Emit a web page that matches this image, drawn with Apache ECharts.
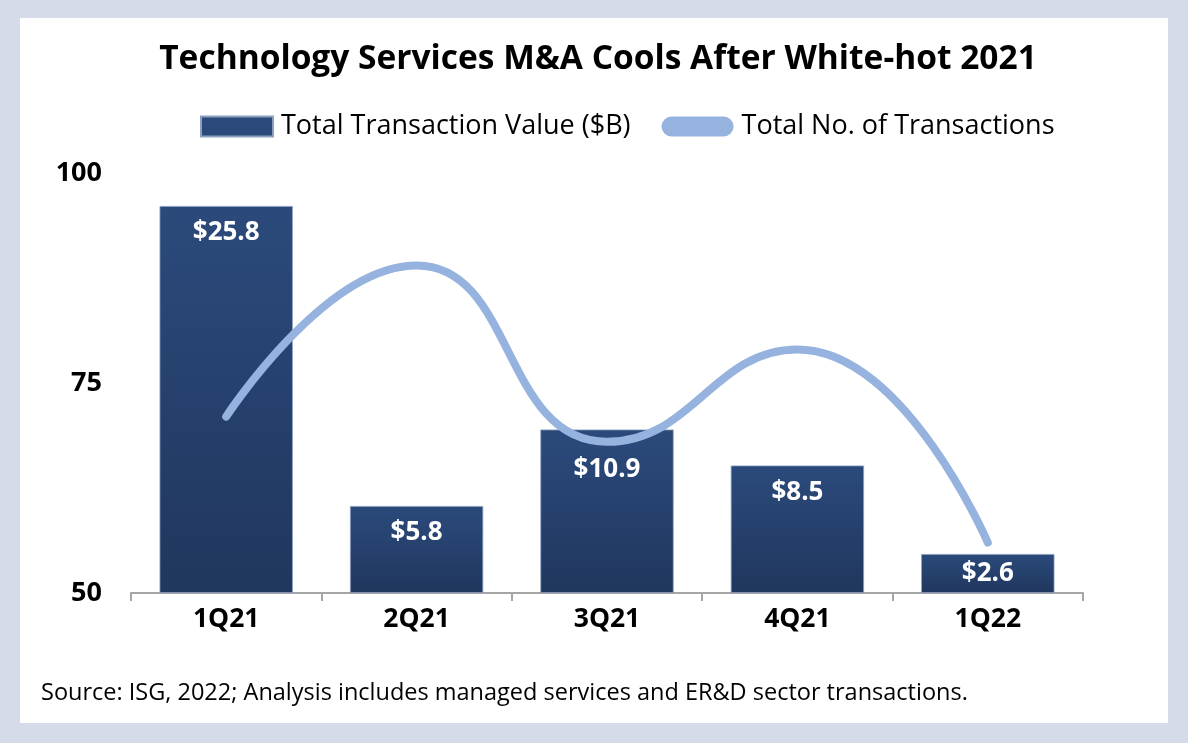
<!DOCTYPE html>
<html>
<head>
<meta charset="utf-8">
<script src="https://cdn.jsdelivr.net/npm/echarts@6/dist/echarts.min.js"></script>
<style>
html,body{margin:0;padding:0;background:#fff;}
#c{width:1202px;height:744px;}
</style>
</head>
<body>
<div id="c"></div>
<script>
const categories = ['1Q21','2Q21','3Q21','4Q21','1Q22'];
const transactionValue = [25.8, 5.8, 10.9, 8.5, 2.6];
const transactionCount = [71, 89, 68, 79, 56];
const yTicks = [50, 75, 100];

const chart = echarts.init(document.getElementById('c'));
const FONT = '"Open Sans", "Noto Sans", sans-serif';
const labelDist = [14, 14, 27, 14, 7];

chart.setOption({
  animation: false,
  textStyle: { fontFamily: FONT },
  graphic: [
    { type: 'rect', z: -10, shape: { x: 0, y: 0, width: 1188, height: 743 }, style: { fill: '#d5dbe8' } },
    { type: 'rect', z: -9, shape: { x: 20, y: 18, width: 1148, height: 705 }, style: { fill: '#ffffff' } },
    { type: 'text', left: 41, top: 681, style: { text: 'Source: ISG, 2022; Analysis includes managed services and ER&D sector transactions.', fontFamily: FONT, fontSize: 23.5, fill: '#000' } }
  ],
  title: {
    text: 'Technology Services M&A Cools After White-hot 2021',
    left: 593, top: 37, textAlign: 'center',
    textStyle: { fontFamily: FONT, fontWeight: 'bold', fontSize: 33.5, color: '#000' }
  },
  legend: {
    left: 200, top: 113, padding: 0,
    itemWidth: 72, itemHeight: 20, itemGap: 31,
    textStyle: { fontFamily: FONT, fontSize: 27, color: '#000', padding: [0,0,0,3] },
    data: [
      { name: 'Total Transaction Value ($B)', icon: 'rect', itemStyle: { color: '#2b4a7b' } },
      { name: 'Total No. of Transactions', icon: 'path://M10,0 L62,0 A10,10 0 0 1 62,20 L10,20 A10,10 0 0 1 10,0 Z', itemStyle: { color: '#95b3de' } }
    ]
  },
  grid: { left: 131, right: 119, top: 173, bottom: 151, containLabel: false },
  xAxis: {
    type: 'category', data: categories, boundaryGap: true,
    axisLine: { lineStyle: { color: '#a6a6a6', width: 2 } },
    axisTick: { show: true, length: 8, lineStyle: { color: '#a6a6a6', width: 2 } },
    axisLabel: { fontFamily: FONT, fontWeight: 'bold', fontSize: 26.5, color: '#000', margin: 13 }
  },
  yAxis: [
    {
      type: 'value', min: yTicks[0], max: yTicks[yTicks.length - 1], interval: 25,
      axisLine: { show: false }, axisTick: { show: false }, splitLine: { show: false },
      axisLabel: { fontFamily: FONT, fontWeight: 'bold', fontSize: 27, color: '#000', margin: 29 }
    },
    {
      type: 'value', min: 0, max: 28.0, show: false,
      splitLine: { show: false }
    }
  ],
  series: [
    {
      name: 'Total Transaction Value ($B)', type: 'bar', yAxisIndex: 1, barWidth: '70%',
      data: transactionValue.map((v, i) => ({
        value: v,
        label: { distance: labelDist[i] }
      })),
      itemStyle: {
        color: new echarts.graphic.LinearGradient(0, 0, 0, 1, [
          { offset: 0, color: '#2b4a7b' },
          { offset: 1, color: '#20375e' }
        ]),
        borderColor: '#8ea0c0', borderWidth: 0.8
      },
      label: {
        show: true, position: 'insideTop',
        formatter: p => '$' + p.value.toFixed(1),
        fontFamily: FONT, fontWeight: 'bold', fontSize: 26, color: '#fff'
      },
      z: 2
    },
    {
      name: 'Total No. of Transactions', type: 'line', yAxisIndex: 0,
      data: transactionCount, smooth: 0.5, symbol: 'none',
      lineStyle: { color: '#95b3de', width: 8, cap: 'round', join: 'round' },
      itemStyle: { color: '#95b3de' },
      z: 3
    }
  ]
});
</script>
</body>
</html>
